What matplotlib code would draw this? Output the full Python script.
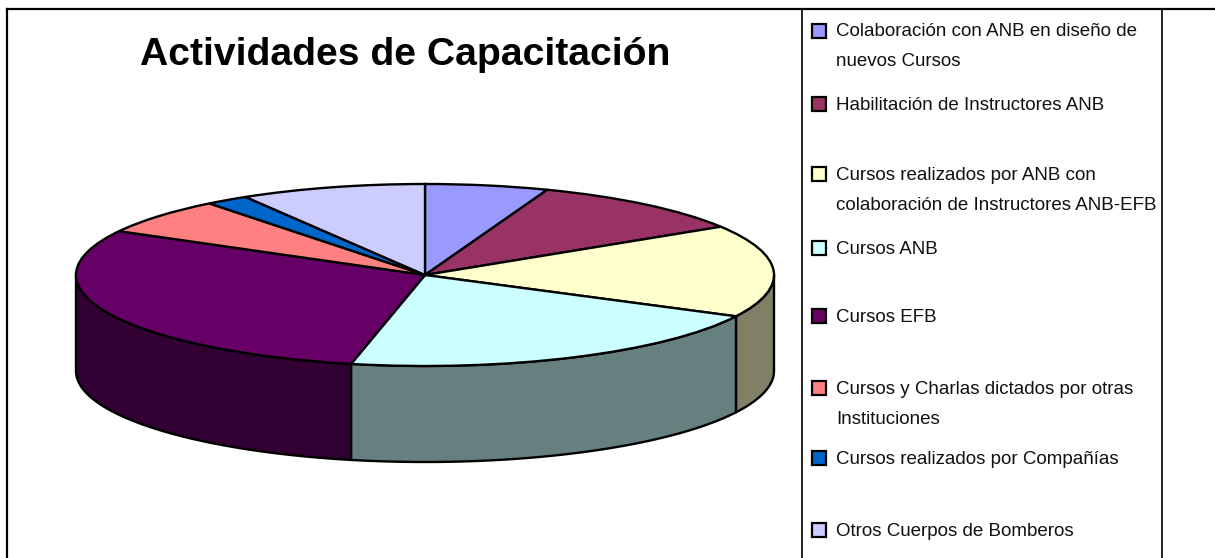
# -*- coding: utf-8 -*-

import numpy as np
import matplotlib
matplotlib.use('Agg')
import matplotlib.pyplot as plt
from matplotlib.patches import Rectangle, Polygon
from matplotlib.colors import to_rgb

plt.rcParams['font.family'] = ['Liberation Sans', 'DejaVu Sans']

title = 'Actividades de Capacitación'
labels = ['Colaboración con ANB en diseño de\nnuevos Cursos',
          'Habilitación de Instructores ANB',
          'Cursos realizados por ANB con\ncolaboración de Instructores ANB-EFB',
          'Cursos ANB',
          'Cursos EFB',
          'Cursos y Charlas dictados por otras\nInstituciones',
          'Cursos realizados por Compañías',
          'Otros Cuerpos de Bomberos']
values = [5.7, 10.4, 16.4, 20.9, 29.6, 6.4, 2.0, 8.6]
colors = ['#9999FF', '#993366', '#FFFFCC', '#CCFFFF',
          '#660066', '#FF8080', '#0066CC', '#CCCCFF']

W, H = 1215, 558
# pie ellipse in pixels
cx, cy, rx, ry = 425, 275, 349, 91
depth = 96
legend_y = [31, 104, 174, 248, 316, 388, 458, 530]
line_gap = 30

fig = plt.figure(figsize=(W/100, H/100), dpi=100, facecolor='white')

# background layer in pixel coords
bg = fig.add_axes([0, 0, 1, 1])
bg.set_xlim(0, W)
bg.set_ylim(H, 0)
bg.axis('off')

# frame lines
bg.plot([7, 7], [H, 9], color='black', lw=1.6)
bg.plot([7, W], [9, 9], color='black', lw=1.6)
bg.plot([802, 802], [9, H], color='black', lw=1.2)
bg.plot([1162, 1162], [9, H], color='black', lw=1.2)

bg.text(405.5, 55, title, fontsize=28.2, fontweight='bold', ha='center', va='center')

# legend
for y, lab, col in zip(legend_y, labels, colors):
    bg.add_patch(Rectangle((811.5, y-7), 14, 14, facecolor=col, edgecolor='black', lw=1.6))
    for i, part in enumerate(lab.split('\n')):
        bg.text(836, y+1+i*line_gap, part, fontsize=13.5, ha='left', va='center', color='#111111')

# pie axes, unit circle mapped to the ellipse
d = depth/float(ry)
ax = fig.add_axes([(cx-rx)/W, 1-(cy+ry+depth)/H, 2.0*rx/W, (2.0*ry+depth)/H])
ax.patch.set_alpha(0)

# side walls first, only the front half (90..270 deg clockwise from top)
edges = np.cumsum([0] + values)/float(sum(values))*360
for i in range(len(values)):
    a = max(edges[i], 90)
    b = min(edges[i+1], 270)
    if b <= a:
        continue
    t = np.radians(np.linspace(a, b, 60))
    x = np.sin(t)
    y = np.cos(t)
    pts = np.column_stack([np.concatenate([x, x[::-1]]),
                           np.concatenate([y, y[::-1]-d])])
    dark = tuple(0.5*c for c in to_rgb(colors[i]))
    ax.add_patch(Polygon(pts, closed=True, facecolor=dark, edgecolor='black',
                         lw=1.7, clip_on=False, joinstyle='round'))

wedges, _ = ax.pie(values, colors=colors, startangle=90, counterclock=False,
                   radius=1, wedgeprops={'edgecolor': 'black', 'linewidth': 1.7,
                                         'clip_on': False})
ax.set_aspect('auto')
ax.set_xlim(-1, 1)
ax.set_ylim(-1-d, 1)
ax.axis('off')

fig.savefig('out.png', dpi=100, facecolor='white')
